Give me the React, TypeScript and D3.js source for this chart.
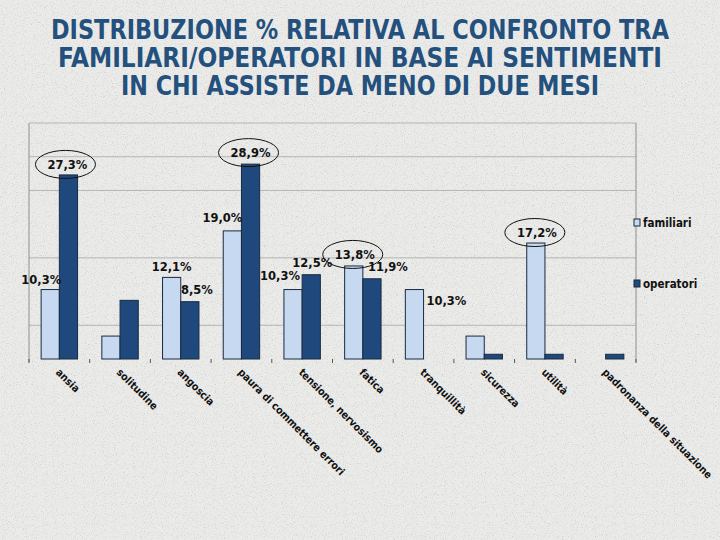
import * as d3 from 'd3'

const TITLE_LINES = [
  'DISTRIBUZIONE % RELATIVA AL CONFRONTO TRA',
  'FAMILIARI/OPERATORI  IN BASE AI SENTIMENTI',
  'IN CHI ASSISTE DA MENO DI DUE MESI',
]

const CATEGORIES = [
  'ansia',
  'solitudine',
  'angoscia',
  'paura di commettere errori',
  'tensione, nervosismo',
  'fatica',
  'tranquillità',
  'sicurezza',
  'utilità',
  'padronanza della situazione',
]

const SERIES = ['familiari', 'operatori']

const FAMILIARI = [10.3, 3.4, 12.1, 19.0, 10.3, 13.8, 10.3, 3.4, 17.2, 0]
const OPERATORI = [27.3, 8.7, 8.5, 28.9, 12.5, 11.9, 0, 0.7, 0.7, 0.7]

const GRID_VALUES = [5, 15, 25, 30]
const Y_MAX = 35

// which bars carry a value label (hand-placed in the original slide)
const LABELS = [
  { cat: 0, series: 0, dx: -9, dy: -5.5, circled: false },
  { cat: 0, series: 1, dx: -1, dy: -6, circled: true },
  { cat: 2, series: 0, dx: 0, dy: -6, circled: false },
  { cat: 2, series: 1, dx: 7, dy: -8, circled: false },
  { cat: 3, series: 0, dx: -10, dy: -9, circled: false },
  { cat: 3, series: 1, dx: 0, dy: -7, circled: true },
  { cat: 4, series: 0, dx: -13, dy: -9.5, circled: false },
  { cat: 4, series: 1, dx: 1, dy: -8, circled: false },
  { cat: 5, series: 0, dx: 1, dy: -7, circled: true },
  { cat: 5, series: 1, dx: 16, dy: -8, circled: false },
  { cat: 6, series: 0, dx: 32, dy: 15.5, circled: false },
  { cat: 8, series: 0, dx: 1, dy: -6, circled: true },
]

const W = 720
const H = 540
const PLOT = { left: 29, right: 636, top: 123, bottom: 359 }

const TITLE_COLOR = '#24507e'
const FAM_COLOR = '#c6d9f1'
const OP_COLOR = '#1f497d'
const BAR_STROKE = '#1a2a40'
const GRID = '#b5b5b5'
const FRAME = '#8f8f8f'
const COND = "'DejaVu Sans Condensed', 'DejaVu Sans', sans-serif"
const LABEL_FONT = "'DejaVu Sans', Verdana, sans-serif"

const fmt = (v: number) => d3.format('.1f')(v).replace('.', ',') + '%'

export default function App() {
  const values = [FAMILIARI, OPERATORI]
  const colors = [FAM_COLOR, OP_COLOR]

  const x = d3
    .scaleBand<number>()
    .domain(d3.range(CATEGORIES.length))
    .range([PLOT.left, PLOT.right])
    .paddingInner(0.4)
    .paddingOuter(0.2)
  const xs = d3.scaleBand<number>().domain(d3.range(SERIES.length)).range([0, x.bandwidth()])
  const y = d3.scaleLinear().domain([0, Y_MAX]).range([PLOT.bottom, PLOT.top])

  const step = x.step()
  const tickXs = d3.range(CATEGORIES.length + 1).map((i) => PLOT.left + i * step)

  return (
    <svg width={W} height={H} style={{ position: 'absolute', left: 0, top: 0 }}>
      <defs>
        <filter id="noise" x="0" y="0" width="100%" height="100%">
          <feTurbulence type="fractalNoise" baseFrequency="0.9" numOctaves="2" stitchTiles="stitch" />
          <feColorMatrix type="matrix" values="0 0 0 0 0.45  0 0 0 0 0.45  0 0 0 0 0.44  -0.9 0 0 0.9 0" />
        </filter>
      </defs>
      <rect width={W} height={H} fill="#ebebe9" />
      <rect width={W} height={H} filter="url(#noise)" />

      {TITLE_LINES.map((t, i) => (
        <text
          key={i}
          x={W / 2}
          y={39 + i * 28}
          textAnchor="middle"
          fontFamily={COND}
          fontWeight="bold"
          fontSize={26}
          fill={TITLE_COLOR}
          textLength={[618, 604, 478][i]}
          lengthAdjust="spacingAndGlyphs"
        >
          {t}
        </text>
      ))}

      {/* grid */}
      {GRID_VALUES.map((g) => (
        <line key={g} x1={PLOT.left} x2={PLOT.right} y1={y(g)} y2={y(g)} stroke={GRID} strokeWidth={1} />
      ))}
      <line x1={PLOT.left} x2={PLOT.right} y1={PLOT.top} y2={PLOT.top} stroke={GRID} />
      <line x1={PLOT.right} x2={PLOT.right} y1={PLOT.top} y2={PLOT.bottom + 3} stroke={FRAME} />
      <line x1={PLOT.left} x2={PLOT.left} y1={PLOT.top} y2={PLOT.bottom + 3} stroke={FRAME} />
      {tickXs.map((tx, i) => (
        <line key={i} x1={tx} x2={tx} y1={PLOT.bottom} y2={PLOT.bottom + 4} stroke="#555" />
      ))}

      {/* bars */}
      {CATEGORIES.map((_, ci) =>
        SERIES.map((_, si) => {
          const v = values[si][ci]
          if (!v) return null
          const bx = (x(ci) ?? 0) + (xs(si) ?? 0)
          return (
            <rect
              key={`${ci}-${si}`}
              x={bx}
              y={y(v)}
              width={xs.bandwidth()}
              height={y(0) - y(v)}
              fill={colors[si]}
              stroke={BAR_STROKE}
              strokeWidth={1}
            />
          )
        })
      )}

      {/* value labels */}
      {LABELS.map((l, i) => {
        const v = values[l.series][l.cat]
        const cx = (x(l.cat) ?? 0) + (xs(l.series) ?? 0) + xs.bandwidth() / 2 + l.dx
        const cy = y(v) + l.dy
        return (
          <g key={i}>
            {l.circled && (
              <ellipse cx={cx - 2} cy={cy - 4.5} rx={30} ry={14} fill="none" stroke="#111" strokeWidth={1} />
            )}
            <text x={cx} y={cy} textAnchor="middle" fontFamily={LABEL_FONT} fontWeight="bold" fontSize={11.5} fill="#111">
              {fmt(v)}
            </text>
          </g>
        )
      })}

      {/* category labels */}
      {CATEGORIES.map((c, ci) => {
        const cx = (x(ci) ?? 0) + x.bandwidth() / 2
        return (
          <text
            key={c}
            transform={`translate(${cx - 4},${PLOT.bottom + 14}) rotate(45)`}
            fontFamily={COND}
            fontWeight="bold"
            fontSize={10.5}
            fill="#111"
          >
            {c}
          </text>
        )
      })}

      {/* legend */}
      {SERIES.map((s, si) => (
        <g key={s} transform={`translate(634,${219 + si * 61})`}>
          <rect x={0} y={0} width={6} height={7} fill={colors[si]} stroke={BAR_STROKE} strokeWidth={1} />
          <text x={9} y={8} fontFamily={COND} fontWeight="bold" fontSize={11.5} fill="#111">
            {s}
          </text>
        </g>
      ))}
    </svg>
  )
}
